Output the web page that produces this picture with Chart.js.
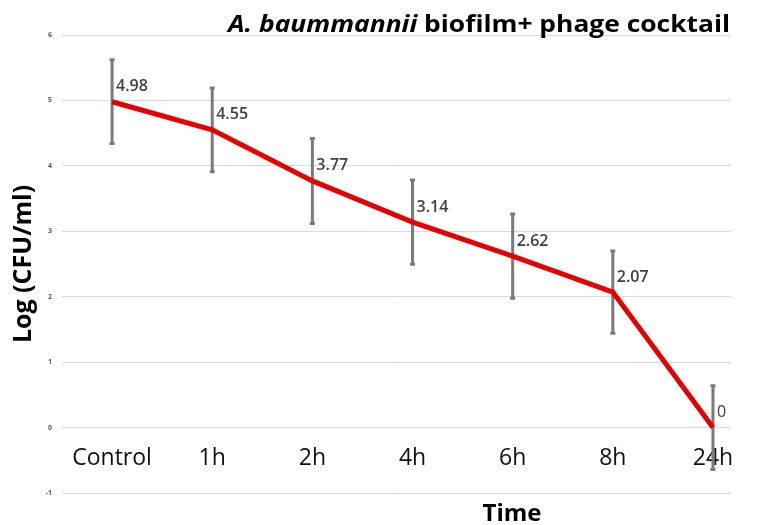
<!DOCTYPE html>
<html>
<head>
<meta charset="utf-8">
<script src="https://cdn.jsdelivr.net/npm/chart.js@4.4.0/dist/chart.umd.min.js"></script>
<style>
  html, body { margin: 0; padding: 0; background: #ffffff; }
  #wrap { width: 761px; height: 525px; }
</style>
</head>
<body>
<div id="wrap"><canvas id="c" width="761" height="525"></canvas></div>
<script>
// ---- data ----
const categories = ["Control", "1h", "2h", "4h", "6h", "8h", "24h"];
const means = [4.98, 4.55, 3.77, 3.14, 2.62, 2.07, 0];
const errors = [0.64, 0.64, 0.65, 0.645, 0.645, 0.63, 0.64];
const yTicks = [-1, 0, 1, 2, 3, 4, 5, 6];
const titleItalic = "A. baummannii";
const titleRest = " biofilm+ phage cocktail";
const xTitle = "Time";
const yTitle = "Log (CFU/ml)";

const FONT = "'Open Sans', 'DejaVu Sans', sans-serif";

const points = means.map((v, i) => ({ x: i, y: v }));

const errorBarPlugin = {
  id: 'errorBars',
  beforeDatasetsDraw(chart) {
    const ctx = chart.ctx;
    const xs = chart.scales.x, ys = chart.scales.y;
    ctx.save();
    ctx.strokeStyle = '#7a7a7a';
    ctx.lineWidth = 3;
    ctx.lineCap = 'butt';
    means.forEach((m, i) => {
      const px = xs.getPixelForValue(i);
      const top = ys.getPixelForValue(m + errors[i]);
      const bot = ys.getPixelForValue(m - errors[i]);
      ctx.beginPath();
      ctx.moveTo(px, top); ctx.lineTo(px, bot);
      ctx.moveTo(px - 2.5, top); ctx.lineTo(px + 2.5, top);
      ctx.moveTo(px - 2.5, bot); ctx.lineTo(px + 2.5, bot);
      ctx.stroke();
    });
    ctx.restore();
  }
};

const labelPlugin = {
  id: 'valueLabels',
  afterDatasetsDraw(chart) {
    const ctx = chart.ctx;
    const meta = chart.getDatasetMeta(0);
    ctx.save();
    ctx.fillStyle = '#404040';
    ctx.textAlign = 'left';
    ctx.textBaseline = 'middle';
    meta.data.forEach((el, i) => {
      const v = means[i];
      ctx.font = (v === 0 ? '400 ' : '600 ') + '16px ' + FONT;
      ctx.fillText(String(v), el.x + 4, el.y - 15);
    });
    ctx.restore();
  }
};

const titlesPlugin = {
  id: 'titles',
  afterDraw(chart) {
    const ctx = chart.ctx;
    ctx.save();
    ctx.fillStyle = '#000000';
    ctx.textBaseline = 'alphabetic';
    ctx.textAlign = 'left';
    const f1 = 'italic 700 24px ' + FONT;
    const f2 = '700 24px ' + FONT;
    ctx.font = f1;
    const w1 = ctx.measureText(titleItalic).width;
    ctx.font = f2;
    const w2 = ctx.measureText(titleRest).width;
    const left = 228, right = chart.chartArea.right - 1;
    const sx = (right - left) / (w1 + w2);
    ctx.save();
    ctx.translate(left, 32);
    ctx.scale(sx, 1);
    ctx.font = f1;
    ctx.fillText(titleItalic, 0, 0);
    ctx.font = f2;
    ctx.fillText(titleRest, w1, 0);
    ctx.restore();
    // x-axis title
    ctx.font = '700 24px ' + FONT;
    ctx.textAlign = 'center';
    ctx.textBaseline = 'alphabetic';
    ctx.fillText(xTitle, 512, 521);
    ctx.restore();
  }
};

new Chart(document.getElementById('c'), {
  type: 'line',
  data: {
    datasets: [{
      data: points,
      borderColor: '#e30000',
      borderWidth: 5,
      pointRadius: 0,
      pointHoverRadius: 0,
      tension: 0,
      fill: false
    }]
  },
  options: {
    responsive: false,
    animation: false,
    events: [],
    layout: { padding: { top: 35, right: 30, left: 0, bottom: 32 } },
    plugins: {
      legend: { display: false },
      tooltip: { enabled: false },
      title: { display: false }
    },
    scales: {
      x: {
        type: 'linear',
        min: -0.5,
        max: 6.18,
        position: { y: 0 },
        afterFit: s => { s.height = 0; },
        afterBuildTicks: s => { s.ticks = categories.map((c, i) => ({ value: i })); },
        grid: { display: false, drawTicks: false },
        border: { display: false },
        ticks: {
          padding: 17,
          color: '#111111',
          font: { family: FONT, size: 23 },
          maxRotation: 0,
          autoSkip: false,
          callback: v => categories[v]
        }
      },
      y: {
        min: -1,
        max: 6,
        afterFit: s => { s.width = 62; },
        afterBuildTicks: s => { s.ticks = yTicks.map(v => ({ value: v })); },
        grid: { color: '#d9d9d9', lineWidth: 1, drawTicks: false },
        border: { display: false },
        ticks: {
          padding: 10,
          color: '#595959',
          font: { family: FONT, size: 7, weight: '700' }
        },
        title: {
          display: true,
          text: yTitle,
          color: '#000000',
          font: { family: FONT, size: 25, weight: '700', lineHeight: 1 },
          padding: { top: 11, bottom: 0 }
        }
      }
    }
  },
  plugins: [errorBarPlugin, labelPlugin, titlesPlugin]
});
</script>
</body>
</html>
